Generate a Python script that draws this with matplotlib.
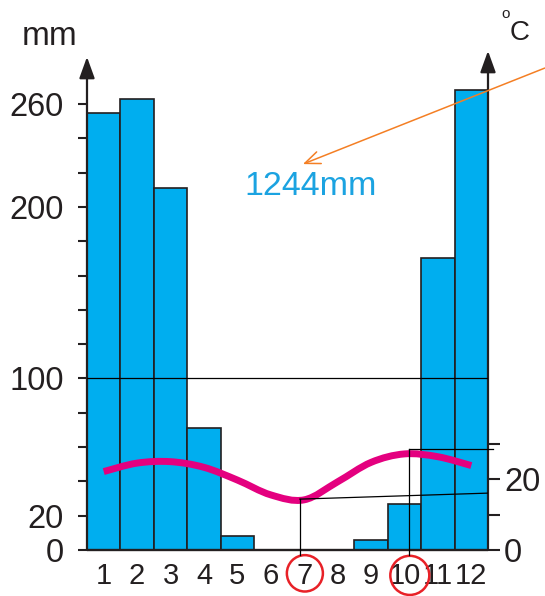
import numpy as np
import matplotlib
matplotlib.use("Agg")
import matplotlib.pyplot as plt
from matplotlib.path import Path
from matplotlib.patches import PathPatch, Ellipse

plt.rcParams['font.family'] = ['Liberation Sans', 'DejaVu Sans']

# climate data
months = np.arange(1, 13)
month_labels = [str(m) for m in months]
rain_mm = [255, 263, 211, 71, 8, 0, 0, 0, 6, 27, 170, 268]
temp_c = [22.2, 24.6, 25.0, 23.4, 19.8, 15.6, 14.2, 19.3, 24.8, 27.2, 26.4, 23.9]
rain_ticks = list(range(0, 261, 20))
rain_ticklabels = ['0', '20', '', '', '', '100', '', '', '', '', '200', '', '', '260']
temp_ticks = [0, 10, 20, 30]
temp_ticklabels = ['0', '', '20', '']
total_label = '1244mm'

DARK = '#231f20'
BLUE = '#00aeef'
MAGENTA = '#e4007f'
ORANGE = '#f47f24'
RED = '#e82127'
MM_PER_C = 2.06
YMAX = 291

fig = plt.figure(figsize=(5.45, 5.96), dpi=100)
ax = fig.add_axes([0.15963, 0.07718, 0.73578, 0.8374])
ax.set_xlim(0.5, 12.5)
ax.set_ylim(0, YMAX)
for s in ax.spines.values():
    s.set_visible(False)

ax.bar(months, rain_mm, width=1.0, color=BLUE, edgecolor=DARK, linewidth=1.2, zorder=2)

# axes lines with arrows
ax.plot([0.5, 12.5], [0, 0], color=DARK, lw=1.7, zorder=3, clip_on=False,
        solid_capstyle='butt')
arrow = dict(arrowstyle='-|>,head_length=1.3,head_width=0.47', color=DARK, lw=1.6,
             mutation_scale=10, shrinkA=0, shrinkB=0)
ax.annotate('', xy=(0.5, 287.5), xytext=(0.5, 0), arrowprops=arrow,
            annotation_clip=False, zorder=3)
ax.annotate('', xy=(12.5, YMAX), xytext=(12.5, 0), arrowprops=arrow,
            annotation_clip=False, zorder=3)

# left ticks
ax.set_xticks([])
ax.set_yticks(rain_ticks)
ax.set_yticklabels(rain_ticklabels, fontsize=23.5, color=DARK)
ax.tick_params(axis='y', length=6.5, width=1.5, color=DARK, pad=10)

# month labels
for m, lab in zip(months, month_labels):
    ax.text(m, -19.8, lab, ha='center', va='baseline', fontsize=21, color=DARK,
            clip_on=False)

# 100 mm guide line
ax.plot([0.5, 12.5], [100, 100], color='black', lw=0.9, zorder=3)

# right temperature axis
tx = ax.twinx()
tx.set_position(ax.get_position())
tx.set_ylim(0, YMAX / MM_PER_C)
for s in tx.spines.values():
    s.set_visible(False)
tx.set_yticks(temp_ticks)
tx.set_yticklabels(temp_ticklabels, fontsize=23.5, color=DARK)
tx.tick_params(axis='y', length=8.5, width=1.5, color=DARK, pad=3)

# smooth temperature curve through monthly values (Catmull-Rom as bezier)
pts = np.column_stack([months, temp_c]).astype(float)
verts = [tuple(pts[0])]
codes = [Path.MOVETO]
for i in range(len(pts) - 1):
    p0 = pts[i - 1] if i > 0 else pts[i]
    p1, p2 = pts[i], pts[i + 1]
    p3 = pts[i + 2] if i + 2 < len(pts) else pts[i + 1]
    c1 = p1 + (p2 - p0) / 6.0
    c2 = p2 - (p3 - p1) / 6.0
    verts += [tuple(c1), tuple(c2), tuple(p2)]
    codes += [Path.CURVE4] * 3
tx.add_patch(PathPatch(Path(verts, codes), facecolor='none', edgecolor=MAGENTA,
                       lw=5, zorder=4, capstyle='butt'))

# guide lines to months 7 and 10
tx.plot([6.87, 12.5], [14.4, 16.1], color='black', lw=0.9, zorder=5)
tx.plot([6.87, 6.87], [14.4, -1.4], color='black', lw=0.9, zorder=5, clip_on=False)
tx.plot([10.13, 12.65], [28.6, 28.6], color='black', lw=0.9, zorder=5, clip_on=False)
tx.plot([10.13, 10.13], [28.6, -1.4], color='black', lw=0.9, zorder=5, clip_on=False)

# red circles around 7 and 10
for cx, cy, rx, ry in [(7.02, -13.6, 0.539, 10.6), (10.16, -14.8, 0.583, 11.4)]:
    ax.add_patch(Ellipse((cx, cy), 2 * rx, 2 * ry, facecolor='none', edgecolor=RED,
                         lw=1.8, clip_on=False, zorder=6))

# total rainfall annotation
ax.annotate('', xy=(6.96, 225), xytext=(14.2, 281),
            arrowprops=dict(arrowstyle='->,head_length=1.1,head_width=0.45', color=ORANGE,
                            lw=1.1, mutation_scale=10, shrinkA=0, shrinkB=0),
            annotation_clip=False, zorder=7)
ax.text(7.2, 212, total_label, ha='center', va='center', fontsize=24.5, color='#1ba3e1',
        zorder=7)

# unit labels
fig.text(50 / 545, 1 - 45 / 596, 'mm', ha='center', va='baseline', fontsize=24, color=DARK)
fig.text(510 / 545, 1 - 40 / 596, 'C', ha='left', va='baseline', fontsize=20, color=DARK)
fig.text(501 / 545, 1 - 18 / 596, 'o', ha='left', va='baseline', fontsize=11, color=DARK)

fig.savefig('out.png', dpi=100)
